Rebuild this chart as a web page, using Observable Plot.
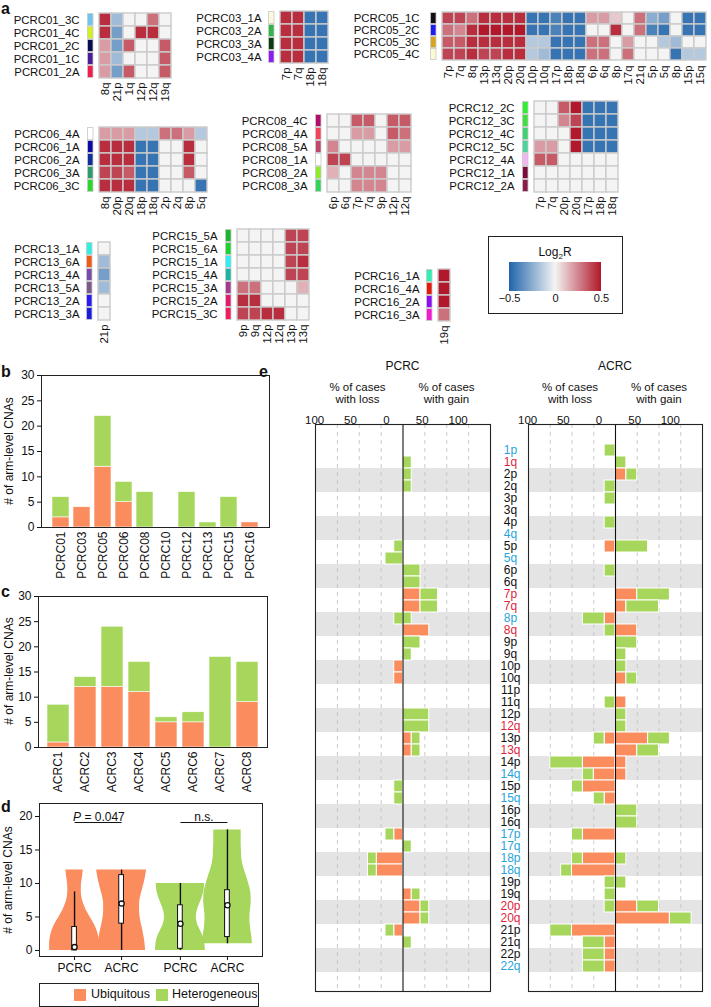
<!DOCTYPE html>
<html><head><meta charset="utf-8">
<script src="https://cdn.jsdelivr.net/npm/d3@7"></script>
<script src="https://cdn.jsdelivr.net/npm/@observablehq/plot@0.6"></script>
<style>
body{margin:0;background:#fff;font-family:"Liberation Sans",Arial,Helvetica,sans-serif;color:#111;}
#root{position:relative;width:711px;height:1007px;overflow:hidden;background:#fff;}
.t{position:absolute;white-space:nowrap;}
.c{transform:translate(-50%,-50%);text-align:center;}
.panel{position:absolute;font-weight:bold;font-size:16px;line-height:16px;}
</style></head><body><div id="root"></div>
<script>
// ---------------- DATA ----------------
// Panel a heatmaps (Log2R)
const pcrc01Samples = ["PCRC01_3C","PCRC01_4C","PCRC01_2C","PCRC01_1C","PCRC01_2A"];
const pcrc01Arms = ["8q","21p","1q","12p","12q","19q"];
const pcrc01Swatch = ["#6ec6f0","#d6ef1e","#0b0b4f","#4b1c98","#ef1f4b"];
const pcrc01Log2R = [[0.45,-0.2,0,0,0.3,0],[0.45,-0.3,0,0.45,0.45,0],[0.2,-0.3,0.35,0,0,0.35],[0.2,-0.2,0,0,0,0.35],[0.2,-0.3,0.35,0,0,0.35]];

const pcrc03Samples = ["PCRC03_1A","PCRC03_2A","PCRC03_3A","PCRC03_4A"];
const pcrc03Arms = ["7p","7q","18p","18q"];
const pcrc03Swatch = ["#fbf9dc","#2fb54b","#0c3b12","#8b1cf2"];
const pcrc03Log2R = [[0.45,0.45,-0.45,-0.45],[0.45,0.45,-0.45,-0.45],[0.45,0.45,-0.45,-0.45],[0.45,0.45,-0.45,-0.45]];

const pcrc05Samples = ["PCRC05_1C","PCRC05_2C","PCRC05_3C","PCRC05_4C"];
const pcrc05Arms = ["7p","7q","8q","13p","13q","20p","20q","10p","10q","17p","18p","18q","6p","6q","8p","17q","21q","5p","5q","8p","15p","15q"];
const pcrc05Swatch = ["#111111","#1d1df2","#d8a31f","#fbf8d2"];
const pcrc05Log2R = [
  [0.4,0.4,0.3,0.45,0.45,0.45,0.45,-0.45,-0.45,-0.4,-0.45,-0.45,0.2,0.2,0.1,0,0.3,-0.25,-0.3,0,-0.45,-0.45],
  [0.3,0.25,0.45,0.5,0.5,0.5,0.5,-0.45,-0.45,-0.4,-0.45,-0.45,0,0,0.45,0,0.3,-0.4,-0.45,0,-0.45,-0.45],
  [0.35,0.35,0.45,0.45,0.45,0.45,0.45,-0.15,-0.15,-0.45,-0.45,-0.45,0.3,0.3,0,0.2,0,0,-0.15,-0.2,0,0],
  [0.4,0.4,0.45,0.4,0.4,0.45,0.45,-0.15,-0.2,-0.45,-0.45,-0.45,0.3,0.3,0,0.3,0,0,0,-0.45,-0.15,-0.15]];

const pcrc06Samples = ["PCRC06_4A","PCRC06_1A","PCRC06_2A","PCRC06_3A","PCRC06_3C"];
const pcrc06Arms = ["8q","20p","20q","18p","18q","2p","2q","8p","5q"];
const pcrc06Swatch = ["#ffffff","#0b0ba3","#0c2f9c","#2e9a6c","#2fd62f"];
const pcrc06Log2R = [[0.2,0.2,0.2,-0.15,-0.15,0.3,0.3,0.2,-0.15],[0.45,0.45,0.45,-0.45,-0.45,0,0,0.45,0],[0.45,0.45,0.45,-0.45,-0.45,0,0,0.45,0],[0.4,0.4,0.35,-0.45,-0.45,0,0,0.35,0],[0.45,0.45,0.45,-0.45,-0.45,0,0,0,-0.45]];

const pcrc08Samples = ["PCRC08_4C","PCRC08_4A","PCRC08_5A","PCRC08_1A","PCRC08_2A","PCRC08_3A"];
const pcrc08Arms = ["6p","6q","7p","7q","9p","12p","12q"];
const pcrc08Swatch = ["#b0106b","#f2425c","#c0486b","#ffffff","#8ceb2b","#2fd65b"];
const pcrc08Log2R = [[0,0,0.35,0.35,0,0.35,0.35],[0,0,0.2,0.2,0,0.35,0.3],[0.25,0,0,0,0,0.2,0.2],[0.4,0.4,0,0,0,0,0],[0.15,0,0.25,0.25,0.25,0,0],[0,0,0.25,0.25,0.25,0,0]];

const pcrc12Samples = ["PCRC12_2C","PCRC12_3C","PCRC12_4C","PCRC12_5C","PCRC12_4A","PCRC12_1A","PCRC12_2A"];
const pcrc12Arms = ["7p","7q","20p","20q","17p","18p","18q"];
const pcrc12Swatch = ["#2ef02e","#3ee03e","#3cd46c","#4cd49c","#f3b6f3","#7a0b3b","#8b1b4b"];
const pcrc12Log2R = [[0,0,0.35,0.5,-0.45,-0.45,-0.45],[0,0,0.25,0.4,-0.45,-0.45,-0.45],[0,0,0,0.5,-0.45,-0.45,-0.45],[0.2,0.2,0,0.5,-0.45,-0.45,-0.45],[0.35,0.35,0,0,0,0,0],[0,0,0,0,0,0,0],[0,0,0,0,0,0,0]];

const pcrc13Samples = ["PCRC13_1A","PCRC13_6A","PCRC13_4A","PCRC13_5A","PCRC13_2A","PCRC13_3A"];
const pcrc13Arms = ["21p"];
const pcrc13Swatch = ["#2ef0e0","#f05a12","#7b4bab","#7b5b8b","#2b1bf2","#1b1be2"];
const pcrc13Log2R = [[0],[-0.2],[-0.3],[-0.2],[0],[0]];

const pcrc15Samples = ["PCRC15_5A","PCRC15_6A","PCRC15_1A","PCRC15_4A","PCRC15_3A","PCRC15_2A","PCRC15_3C"];
const pcrc15Arms = ["9p","9q","12p","12q","13p","13q"];
const pcrc15Swatch = ["#1bb52b","#1bd42b","#2ef0f2","#1bb4a2","#a23b8b","#e21b6b","#f21b5b"];
const pcrc15Log2R = [[0,0,0,0,0.4,0.4],[0,0,0,0,0.4,0.4],[0,0,0,0,0.4,0.45],[0,0,0,0,0.4,0.4],[0.3,0.3,0,0,0,0.15],[0.45,0.45,0,0,0,0],[0.4,0.4,0.45,0.45,0,0]];

const pcrc16Samples = ["PCRC16_1A","PCRC16_4A","PCRC16_2A","PCRC16_3A"];
const pcrc16Arms = ["19q"];
const pcrc16Swatch = ["#2ef0b2","#e21b0b","#8b0bf2","#f21bd2"];
const pcrc16Log2R = [[0.5],[0.5],[0.5],[0.3]];

const log2rDomain = [-0.5, 0, 0.5];

// Panels b, c
const pcrcPatients = ["PCRC01","PCRC03","PCRC05","PCRC06","PCRC08","PCRC10","PCRC12","PCRC13","PCRC15","PCRC16"];
const pcrcUbiquitous = [2,4,12,5,0,0,0,0,0,1];
const pcrcHeterogeneous = [4,0,10,4,7,0,7,1,6,0];
const acrcPatients = ["ACRC1","ACRC2","ACRC3","ACRC4","ACRC5","ACRC6","ACRC7","ACRC8"];
const acrcUbiquitous = [1,12,12,11,5,5,0,9];
const acrcHeterogeneous = [7.5,2,12,6,1,2,18,8];
const countTicks = [0,5,10,15,20,25,30];

// Panel d (violins)
const violinType = ["Ubiquitous","Ubiquitous","Heterogeneous","Heterogeneous"];
const violinCohort = ["PCRC","ACRC","PCRC","ACRC"];
const violinMin = [0,0,0,1];
const violinShape = [
  [1.0,1.0,0.97,0.9,0.78,0.62,0.47,0.36,0.29,0.27,0.28,0.32,0.35],
  [0.96,0.94,0.9,0.85,0.79,0.74,0.72,0.72,0.76,0.83,0.9,0.96,1.0],
  [1.0,0.98,0.92,0.8,0.68,0.64,0.68,0.78,0.88,0.95,0.97],
  [1.0,0.98,0.94,0.91,0.9,0.92,0.95,0.95,0.92,0.85,0.77,0.68,0.61,0.57,0.56,0.55,0.55,0.55]];
const boxLo = [0,0,0,1];
const boxQ1 = [0,4,0.25,2];
const boxMedian = [0.5,7,4,6.75];
const boxQ3 = [3.5,11.25,6.75,9];
const boxHi = [8.75,12,10,18];
const dTicks = [0,5,10,15,20];

// Panel e
const arms = ["1p","1q","2p","2q","3p","3q","4p","4q","5p","5q","6p","6q","7p","7q","8p","8q","9p","9q","10p","10q","11p","11q","12p","12q","13p","13q","14p","14q","15p","15q","16p","16q","17p","17q","18p","18q","19p","19q","20p","20q","21p","21q","22p","22q"];
const armStatus = ["loss","gain","","","","","","loss","","loss","","","gain","gain","loss","gain","","","","","","","","gain","","gain","","loss","","loss","","","loss","loss","loss","loss","","","gain","gain","","","","loss"];
const pcrcCases = 10, acrcCases = 8;
const pcrcLossU = [0,0,0,0,0,0,0,0,0,0,0,0,0,0,0,0,0,0,1,1,0,0,0,0,0,0,0,0,0,0,0,0,1,0,3,3,0,0,0,0,1,0,0,0];
const pcrcLossH = [0,0,0,0,0,0,0,0,1,2,0,0,0,0,1,0,0,0,0,0,0,0,0,0,0,0,0,0,1,1,0,0,1,0,1,1,0,0,0,0,1,0,0,0];
const pcrcGainU = [0,0,0,0,0,0,0,0,0,0,0,0,2,2,0,3,0,0,0,0,0,0,0,0,1,1,0,0,0,0,0,0,0,0,0,0,0,1,2,2,0,0,0,0];
const pcrcGainH = [0,1,1,1,0,0,0,0,0,0,2,2,2,2,1,0,2,1,0,0,0,0,3,3,1,1,0,0,0,0,0,0,0,1,0,0,0,1,1,1,0,1,0,0];
const acrcLossU = [0,0,0,0,0,0,0,0,1,0,0,0,0,0,1,0,0,0,0,0,0,0,0,0,1,0,3,2,3,1,0,0,3,0,3,4,0,0,0,0,4,1,1,1];
const acrcLossH = [1,0,0,1,1,0,1,0,0,0,1,0,0,0,2,1,0,0,0,0,0,1,0,0,1,0,3,1,1,1,0,0,1,0,1,1,1,1,1,0,2,2,2,2];
const acrcGainU = [0,0,1,0,0,0,0,0,0,0,0,0,2,1,0,2,0,0,0,1,0,1,0,0,3,2,1,1,0,0,0,0,0,0,0,0,0,0,2,5,0,0,0,0];
const acrcGainH = [0,1,1,0,0,0,0,0,3,0,0,0,3,3,0,0,2,1,1,1,0,0,1,1,2,2,0,0,0,0,2,2,0,0,1,0,1,0,2,2,0,0,0,0];
const percentTicks = [-100,-50,0,50,100];
const gridPercents = [-75,-50,-25,25,50,75];

// ---------------- STYLE / HELPERS ----------------
const FONT = '"Liberation Sans", Arial, Helvetica, sans-serif';
const ORANGE = "#fa8c5e", GREEN = "#a6d75c";
const BLUE_T = "#27a4dc", RED_T = "#e01f3c";
const root = document.getElementById("root");
const log2rColor = {type: "linear", domain: log2rDomain, range: ["#2166ac", "#f4f4f4", "#b2182b"], interpolate: "rgb"};

function place(node, left, top, width) {
  const d = document.createElement("div");
  d.style.cssText = `position:absolute;left:${left}px;top:${top}px;` + (width ? `width:${width}px;` : "");
  d.appendChild(node);
  root.appendChild(d);
  return d;
}
function txt(html, cx, cy, css = "") {
  const d = document.createElement("div");
  d.className = "t c";
  d.style.cssText = `left:${cx}px;top:${cy}px;${css}`;
  d.innerHTML = html;
  root.appendChild(d);
  return d;
}
function panel(letter, x, y) {
  const d = document.createElement("div");
  d.className = "panel";
  d.style.cssText = `left:${x}px;top:${y}px;`;
  d.textContent = letter;
  root.appendChild(d);
}
function vlabel(text, cx, cy) {
  txt(text, cx, cy, "transform:translate(-50%,-50%) rotate(-90deg);font-size:12px;");
}

// ---------------- PANEL a ----------------
function heatmap(samples, armsH, values, swatches, gridLeft, gridTop, cellW, cellH) {
  const ML = 110, MB = 30;
  const n = armsH.length;
  const cells = [];
  samples.forEach((s, i) => armsH.forEach((a, j) => cells.push({s, j, v: values[i][j]})));
  const width = ML + (n + 1) * cellW + 2;
  const height = samples.length * cellH + 2 + MB;
  const marks = samples.map((s, i) => Plot.cell([s], {x: () => "sw", y: d => d, fill: swatches[i], stroke: "#c8c8c8", strokeWidth: 0.8, insetLeft: 0.5, insetRight: 6, insetTop: 0.6, insetBottom: 0.6}));
  marks.push(Plot.cell(cells, {x: "j", y: "s", fill: "v", stroke: "#cbcbcb", strokeWidth: 1.4}));
  const svg = Plot.plot({
    width, height, marginLeft: ML, marginRight: 2, marginTop: 1, marginBottom: MB,
    style: {fontFamily: FONT, fontSize: "11.4px", overflow: "visible", color: "#111", background: "transparent"},
    x: {type: "band", domain: ["sw", ...d3.range(n)], padding: 0, tickFormat: d => d === "sw" ? "" : armsH[d], tickRotate: -90, tickSize: 0, tickPadding: 4, label: null},
    y: {type: "band", domain: samples, padding: 0, tickSize: 0, tickPadding: 6, label: null},
    color: log2rColor,
    marks
  });
  place(svg, gridLeft - cellW - ML, gridTop - 1, width);
}

heatmap(pcrc01Samples, pcrc01Arms, pcrc01Log2R, pcrc01Swatch, 97, 12, 12.5, 13);
heatmap(pcrc03Samples, pcrc03Arms, pcrc03Log2R, pcrc03Swatch, 279, 10, 12.5, 13);
heatmap(pcrc05Samples, pcrc05Arms, pcrc05Log2R, pcrc05Swatch, 437, 10, 12.4, 12.5);
heatmap(pcrc06Samples, pcrc06Arms, pcrc06Log2R, pcrc06Swatch, 97, 126, 12.4, 13);
heatmap(pcrc08Samples, pcrc08Arms, pcrc08Log2R, pcrc08Swatch, 325.5, 113, 12.6, 13);
heatmap(pcrc12Samples, pcrc12Arms, pcrc12Log2R, pcrc12Swatch, 533, 100, 12.6, 13);
heatmap(pcrc13Samples, pcrc13Arms, pcrc13Log2R, pcrc13Swatch, 97, 241, 12.5, 13);
heatmap(pcrc15Samples, pcrc15Arms, pcrc15Log2R, pcrc15Swatch, 236, 228, 12.6, 13);
heatmap(pcrc16Samples, pcrc16Arms, pcrc16Log2R, pcrc16Swatch, 437, 268, 12.5, 13);

// Log2R legend box
(function () {
  const box = document.createElement("div");
  box.style.cssText = "position:absolute;left:488px;top:236px;width:133px;height:76px;border:1px solid #222;";
  root.appendChild(box);
  txt("Log<sub style='font-size:8px'>2</sub>R", 555, 253, "font-size:12px;");
  const leg = Plot.legend({
    color: log2rColor, width: 134, height: 47, marginTop: 0, marginBottom: 18, marginLeft: 21, marginRight: 21,
    ticks: log2rDomain, tickSize: 0, label: null,
    tickFormat: d => (d < 0 ? "\u2212" : "") + Math.abs(d),
    style: {fontFamily: FONT, fontSize: "11px", color: "#111", background: "transparent", overflow: "visible"}
  });
  leg.querySelectorAll("line, path.domain").forEach(el => el.remove());
  place(leg, 488, 262, 134);
})();

// ---------------- PANELS b, c ----------------
function countBars(patients, ubi, het, frame) {
  const rows = [];
  patients.forEach((p, i) => {
    rows.push({p, type: "U", v: ubi[i]});
    rows.push({p, type: "H", v: het[i]});
  });
  const MT = 5, MB = 58, ML = frame.left, MR = 3;
  const width = frame.right + MR, height = MT + (frame.bottom - frame.top) + MB;
  const svg = Plot.plot({
    width, height, marginLeft: ML, marginRight: MR, marginTop: MT, marginBottom: MB,
    style: {fontFamily: FONT, fontSize: "12px", overflow: "visible", color: "#111", background: "transparent"},
    x: {domain: patients, paddingInner: frame.pi, paddingOuter: frame.po, label: null, tickRotate: -90, tickSize: 0, tickPadding: 4},
    y: {domain: [0, 30], ticks: countTicks, label: null, tickSize: 4, tickPadding: 3},
    marks: [
      Plot.barY(rows, {x: "p", y: "v", fill: d => d.type === "U" ? ORANGE : GREEN, stroke: "white", strokeWidth: 0.6}),
      Plot.frame({stroke: "#222"})
    ]
  });
  place(svg, 0, frame.top - MT, width);
}
countBars(pcrcPatients, pcrcUbiquitous, pcrcHeterogeneous, {left: 41, right: 269, top: 375, bottom: 527, pi: 0.17, po: 0.37});
countBars(acrcPatients, acrcUbiquitous, acrcHeterogeneous, {left: 38, right: 267, top: 596, bottom: 747, pi: 0.2, po: 0.34});
vlabel("# of arm-level CNAs", 9, 451);
vlabel("# of arm-level CNAs", 9, 671);

// ---------------- PANEL d ----------------
(function () {
  const types = ["Ubiquitous", "Heterogeneous"], cohorts = ["PCRC", "ACRC"];
  const pos = violinType.map((t, i) => types.indexOf(t) * 2.25 + cohorts.indexOf(violinCohort[i]));
  const HALF = 0.53;
  const fillOf = i => violinType[i] === "Ubiquitous" ? ORANGE : GREEN;
  const marks = [];
  violinShape.forEach((shape, i) => {
    const pts = shape.map((w, k) => ({y: violinMin[i] + k, w}));
    marks.push(Plot.areaX(pts, {y: "y", x1: d => pos[i] - d.w * HALF, x2: d => pos[i] + d.w * HALF, fill: fillOf(i), curve: "monotone-y"}));
  });
  const idx = d3.range(violinShape.length);
  marks.push(Plot.ruleX(idx, {x: i => pos[i], y1: i => boxLo[i], y2: i => boxHi[i], stroke: "#111", strokeWidth: 1.4}));
  marks.push(Plot.rect(idx, {x1: i => pos[i] - 0.05, x2: i => pos[i] + 0.05, y1: i => boxQ1[i], y2: i => boxQ3[i], fill: "white", stroke: "#111", strokeWidth: 1}));
  marks.push(Plot.dot(idx, {x: i => pos[i], y: i => boxMedian[i], r: 2.6, fill: "white", stroke: "#111", strokeWidth: 1.3}));
  // significance annotations
  const pairs = [{a: 0, b: 1, label: "P"}, {a: 2, b: 3, label: "n.s."}];
  marks.push(Plot.link(pairs, {x1: d => pos[d.a], x2: d => pos[d.b], y1: 19.1, y2: 19.1, stroke: "#111", strokeWidth: 1}));
  marks.push(Plot.text([pairs[0]], {x: d => (pos[d.a] + pos[d.b]) / 2, y: 19.4, text: () => "P", fontStyle: "italic", textAnchor: "end", lineAnchor: "bottom", dx: -17, fontSize: 12}));
  marks.push(Plot.text([pairs[0]], {x: d => (pos[d.a] + pos[d.b]) / 2, y: 19.4, text: () => "\u00a0= 0.047", textAnchor: "start", lineAnchor: "bottom", dx: -17, fontSize: 12}));
  marks.push(Plot.text([pairs[1]], {x: d => (pos[d.a] + pos[d.b]) / 2, y: 19.4, text: "label", lineAnchor: "bottom", fontSize: 12}));
  marks.push(Plot.frame({stroke: "#222"}));
  const labelAt = new Map(pos.map((p, i) => [p, violinCohort[i]]));
  marks.push(Plot.axisX(pos, {tickFormat: d => labelAt.get(d), tickSize: 4, tickPadding: 3, label: null, fontSize: 12}));
  marks.push(Plot.axisY(dTicks, {tickSize: 4, tickPadding: 3, label: null, fontSize: 12}));
  const ML = 39, MR = 5, MT = 6, MB = 25, top = 803, bottom = 956;
  const width = 262 + MR;
  const svg = Plot.plot({
    width, height: MT + (bottom - top) + MB, marginLeft: ML, marginRight: MR, marginTop: MT, marginBottom: MB,
    style: {fontFamily: FONT, fontSize: "12px", overflow: "visible", color: "#111", background: "transparent"},
    x: {domain: [-0.745, 3.995]},
    y: {domain: [-0.9, 21.94]},
    marks
  });
  place(svg, 0, top - MT, width);
  vlabel("# of arm-level CNAs", 8, 880);
  // legend
  const lg = document.createElement("div");
  lg.style.cssText = "position:absolute;left:39px;top:983px;width:218px;height:22px;border:1px solid #222;font-size:12.5px;";
  lg.innerHTML = `<span style="position:absolute;left:34px;top:5px;width:12px;height:12px;background:${ORANGE}"></span>
    <span style="position:absolute;left:51px;top:3px;">Ubiquitous</span>
    <span style="position:absolute;left:116px;top:5px;width:12px;height:12px;background:${GREEN}"></span>
    <span style="position:absolute;left:132px;top:3px;">Heterogeneous</span>`;
  root.appendChild(lg);
})();

// ---------------- PANEL e ----------------
function cnaPanel(lossU, lossH, gainU, gainH, nCases, frame, withArmLabels) {
  const pct = c => c / nCases * 100;
  const rows = [];
  arms.forEach((a, i) => {
    const lu = pct(lossU[i]), lh = pct(lossH[i]), gu = pct(gainU[i]), gh = pct(gainH[i]);
    if (lu) rows.push({arm: a, t: "U", x1: 0, x2: -lu});
    if (lh) rows.push({arm: a, t: "H", x1: -lu, x2: -lu - lh});
    if (gu) rows.push({arm: a, t: "U", x1: 0, x2: gu});
    if (gh) rows.push({arm: a, t: "H", x1: gu, x2: gu + gh});
  });
  const evenArms = arms.filter(a => parseInt(a) % 2 === 0);
  const MT = 62, MB = 6, MR = 6, ML = frame.ml;
  const width = ML + (frame.right - frame.left) + MR;
  const marks = [
    Plot.barX(evenArms, {x1: -100, x2: 100, y: d => d, fill: "#e4e4e4"}),
    Plot.ruleX(gridPercents, {stroke: "#c4c4c4", strokeWidth: 0.9, strokeDasharray: "4,4"}),
    Plot.barX(rows, {x1: "x1", x2: "x2", y: "arm", fill: d => d.t === "U" ? ORANGE : GREEN, stroke: "white", strokeWidth: 1}),
    Plot.ruleX([0], {stroke: "#111", strokeWidth: 1.1}),
    Plot.frame({stroke: "#222", strokeWidth: 1.1}),
    Plot.text(percentTicks, {x: t => t * 0.82 - 19, text: t => String(Math.abs(t)), frameAnchor: "top", dy: -9, fontSize: 11.5, fill: "#111"})
  ];
  if (withArmLabels) {
    const col = s => s === "loss" ? BLUE_T : s === "gain" ? RED_T : "#111";
    marks.push(Plot.text(arms, {x: -100, y: d => d, dx: -18, text: d => d, fill: (d, i) => col(armStatus[i]), textAnchor: "middle", fontSize: 12}));
  }
  const svg = Plot.plot({
    width, height: MT + (frame.bottom - frame.top) + MB, marginLeft: ML, marginRight: MR, marginTop: MT, marginBottom: MB,
    style: {fontFamily: FONT, fontSize: "11.5px", overflow: "visible", color: "#111", background: "transparent"},
    x: {domain: [-100, 100], axis: null},
    y: {type: "band", domain: arms, paddingInner: 0, paddingOuter: 1, axis: null},
    marks
  });
  place(svg, frame.left - ML, frame.top - MT, width);
  const cx = (frame.left + frame.right) / 2;
  txt(frame.title, cx, 366, "font-size:12px;");
  txt("% of cases<br>with loss", cx - 45, 393, "font-size:11.5px;line-height:12px;");
  txt("% of cases<br>with gain", cx + 44, 393, "font-size:11.5px;line-height:12px;");
}
cnaPanel(pcrcLossU, pcrcLossH, pcrcGainU, pcrcGainH, pcrcCases, {left: 315, right: 490, top: 424, bottom: 991, ml: 12, title: "PCRC"}, false);
cnaPanel(acrcLossU, acrcLossH, acrcGainU, acrcGainH, acrcCases, {left: 528, right: 702, top: 424, bottom: 991, ml: 38, title: "ACRC"}, true);

// panel letters
panel("a", 1, 1);
panel("b", 1, 364);
panel("c", 1, 584);
panel("d", 1, 799);
panel("e", 259, 364);
</script></body></html>
